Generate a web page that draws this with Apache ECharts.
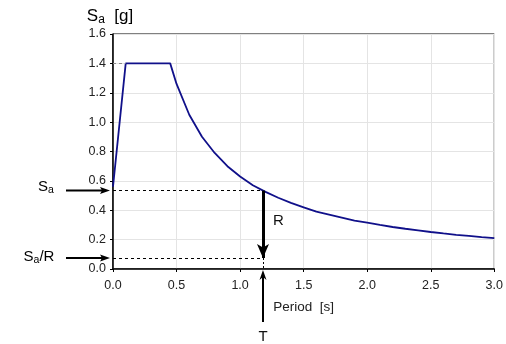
<!DOCTYPE html>
<html>
<head>
<meta charset="utf-8">
<script src="https://cdn.jsdelivr.net/npm/echarts@6/dist/echarts.min.js"></script>
<style>
  html, body { margin: 0; padding: 0; background: #fff; }
  #chart { width: 506px; height: 344px; }
</style>
</head>
<body>
<div id="chart"></div>
<script>
// design spectrum
const periods = [0, 0.1, 0.45, 0.5, 0.6, 0.7, 0.8, 0.9, 1.0, 1.1, 1.2, 1.3, 1.4, 1.5,
  1.6, 1.7, 1.8, 1.9, 2.0, 2.1, 2.2, 2.3, 2.4, 2.5, 2.6, 2.7, 2.8, 2.9, 3.0];
const spectral = [0.56, 1.4, 1.4, 1.26, 1.05, 0.9, 0.79, 0.7, 0.63, 0.57, 0.525, 0.485, 0.45, 0.42,
  0.39, 0.37, 0.35, 0.33, 0.315, 0.30, 0.286, 0.274, 0.263, 0.252, 0.242, 0.233, 0.225, 0.217, 0.21];
const plateau = 1.4;
const plateauStart = 0.1;
const T = 1.18;
const Sa = 0.534;
const SaR = 0.075;

const font = "'Liberation Sans', Arial, sans-serif";
const myChart = echarts.init(document.getElementById("chart"));

myChart.setOption({
  animation: false,
  textStyle: { fontFamily: font },
  grid: {
    left: 113,
    top: 34,
    right: 10,
    bottom: 75,
    show: true,
    borderColor: "#000",
    borderWidth: 1,
  },
  xAxis: {
    type: "value",
    min: 0,
    max: 3,
    interval: 0.5,
    name: "Period  [s]",
    nameLocation: "middle",
    nameGap: 31,
    nameTextStyle: { color: "#222", fontSize: 13.5, fontFamily: font },
    axisLine: { lineStyle: { color: "#000", width: 1.5 } },
    axisTick: { show: true, length: 3, lineStyle: { color: "#000" } },
    axisLabel: {
      color: "#222",
      fontSize: 12.5,
      margin: 10,
      formatter: (v) => v.toFixed(1),
    },
    splitLine: { show: true, lineStyle: { color: "#e4e4e4", width: 1 } },
  },
  yAxis: {
    type: "value",
    min: 0,
    max: 1.6,
    interval: 0.2,
    axisLine: { show: true, lineStyle: { color: "#000", width: 1.5 } },
    axisTick: { show: true, length: 3, lineStyle: { color: "#000" } },
    axisLabel: {
      color: "#222",
      fontSize: 12.5,
      margin: 7,
      formatter: (v) => v.toFixed(1),
    },
    splitLine: { show: true, lineStyle: { color: "#e4e4e4", width: 1 } },
  },
  series: [
    {
      type: "line",
      data: periods.map((p, i) => [p, spectral[i]]),
      symbol: "none",
      lineStyle: { color: "#10108a", width: 1.8 },
      z: 3,
      markLine: {
        silent: true,
        symbol: "none",
        label: { show: false },
        data: [
          [
            { coord: [0, plateau], lineStyle: { color: "#888", type: [3, 3], width: 1 } },
            { coord: [plateauStart, plateau] },
          ],
          [
            { coord: [0, Sa], lineStyle: { color: "#000", type: [3, 3], width: 1 } },
            { coord: [T, Sa] },
          ],
          [
            { coord: [0, SaR], lineStyle: { color: "#000", type: [3, 3], width: 1 } },
            { coord: [T, SaR] },
          ],
          [
            { coord: [T, SaR], lineStyle: { color: "#000", type: [2, 2], width: 1 } },
            { coord: [T, 0] },
          ],
          [
            { coord: [T, Sa], symbol: "none", lineStyle: { color: "#000", type: "solid", width: 3 } },
            { coord: [T, SaR], symbol: "arrow", symbolSize: [9, 14] },
          ],
        ],
      },
    },
  ],
});

// annotations outside the plot area, placed from the data coordinates
const [, ySa] = myChart.convertToPixel({ gridIndex: 0 }, [0, Sa]);
const [, ySaR] = myChart.convertToPixel({ gridIndex: 0 }, [0, SaR]);
const [xT, y0] = myChart.convertToPixel({ gridIndex: 0 }, [T, 0]);

const arrowRight = (y) => [
  { type: "line", shape: { x1: 66, y1: y, x2: 102, y2: y }, style: { stroke: "#000", lineWidth: 2 } },
  { type: "polygon", shape: { points: [[110, y], [100, y - 3.5], [102, y], [100, y + 3.5]] }, style: { fill: "#000" } },
];
const rich = {
  m: { fontSize: 15, fontFamily: font, color: "#111" },
  s: { fontSize: 10.5, fontFamily: font, color: "#111", verticalAlign: "bottom", padding: [7, 0, 0, 0] },
};
const richBig = {
  m: { fontSize: 17, fontFamily: font, color: "#111" },
  s: { fontSize: 12, fontFamily: font, color: "#111", verticalAlign: "bottom", padding: [8, 0, 0, 0] },
};

myChart.setOption({
  graphic: [
    ...arrowRight(ySa),
    ...arrowRight(ySaR),
    { type: "line", shape: { x1: xT, y1: 322, x2: xT, y2: y0 + 8 }, style: { stroke: "#000", lineWidth: 2 } },
    { type: "polygon", shape: { points: [[xT, y0 + 1], [xT - 3.5, y0 + 11], [xT, y0 + 8], [xT + 3.5, y0 + 11]] }, style: { fill: "#000" } },
    {
      type: "text",
      x: 46,
      y: ySa - 4,
      style: { text: "{m|S}{s|a}", rich, align: "center", verticalAlign: "middle" },
    },
    {
      type: "text",
      x: 39,
      y: ySaR - 1,
      style: { text: "{m|S}{s|a}{m|/R}", rich, align: "center", verticalAlign: "middle" },
    },
    {
      type: "text",
      x: xT + 10,
      y: (ySa + ySaR) / 2 - 3,
      style: { text: "R", fontSize: 15, fontFamily: font, fill: "#111", align: "left", verticalAlign: "middle" },
    },
    {
      type: "text",
      x: xT,
      y: 337,
      style: { text: "T", fontSize: 15, fontFamily: font, fill: "#111", align: "center", verticalAlign: "middle" },
    },
    {
      type: "text",
      x: 110,
      y: 16,
      style: { text: "{m|S}{s|a}{m|  [g]}", rich: richBig, align: "center", verticalAlign: "middle" },
    },
  ],
});
</script>
</body>
</html>
